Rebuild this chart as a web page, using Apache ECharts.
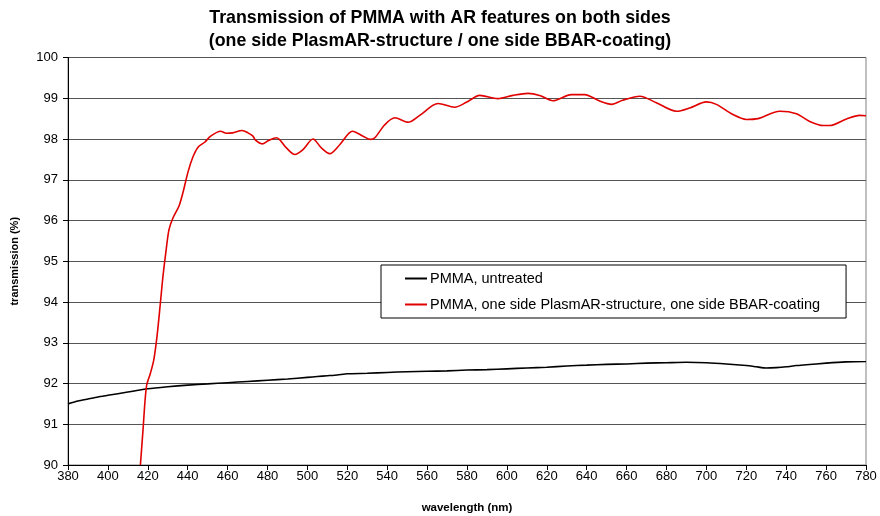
<!DOCTYPE html>
<html>
<head>
<meta charset="utf-8">
<script src="https://cdn.jsdelivr.net/npm/echarts@6/dist/echarts.min.js"></script>
<style>html,body{margin:0;padding:0;background:#fff}#c{width:880px;height:516px}</style>
</head>
<body>
<div id="c"></div>
<script>
var titleText = 'Transmission of PMMA with AR features on both sides\n(one side PlasmAR-structure / one side BBAR-coating)';
var xName = 'wavelength (nm)';
var yName = 'transmission (%)';
var seriesNames = ['PMMA, untreated', 'PMMA, one side PlasmAR-structure, one side BBAR-coating'];

var untreated = [
  [380,91.5],[385,91.57],[390,91.62],[395,91.67],[400,91.71],[410,91.79],[420,91.87],[430,91.92],
  [440,91.96],[450,91.99],[460,92.02],[470,92.05],[480,92.08],[490,92.11],[500,92.15],[505,92.17],
  [510,92.19],[515,92.21],[520,92.24],[530,92.25],[540,92.27],[550,92.29],[560,92.3],[570,92.31],
  [580,92.33],[590,92.34],[600,92.36],[610,92.38],[620,92.4],[630,92.43],[640,92.45],[650,92.47],
  [660,92.48],[670,92.5],[680,92.51],[690,92.52],[700,92.51],[710,92.48],[720,92.44],[725,92.41],
  [730,92.38],[735,92.39],[740,92.41],[745,92.44],[750,92.46],[760,92.5],[770,92.53],[780,92.54]
];

var treated = [
  [416.3,90.0],[417.6,90.86],[419.3,91.92],[421.3,92.25],[423,92.58],[424.6,93.15],[426.3,93.97],
  [427.6,94.63],[429,95.2],[430.6,95.77],[432.6,96.06],[435.6,96.35],[437.6,96.68],[440.2,97.2],
  [442.7,97.57],[445.2,97.8],[448.5,97.92],[451.5,98.07],[456.5,98.19],[459.4,98.14],[462.5,98.15],
  [467.3,98.21],[470.2,98.15],[472.7,98.07],[474,97.97],[477.3,97.88],[480.8,97.97],[484.5,98.03],
  [489.5,97.78],[493.7,97.62],[497.8,97.74],[502.8,98.0],[507,97.78],[511.2,97.64],[516.2,97.86],
  [522.6,98.19],[527.9,98.07],[531.6,97.99],[533.8,98.03],[538.8,98.35],[543.8,98.52],[550.5,98.41],
  [556.3,98.58],[565.5,98.87],[573.8,98.78],[579.7,98.9],[586.4,99.07],[595.5,98.99],[603,99.07],
  [610.6,99.12],[616.4,99.07],[623.1,98.94],[632.3,99.09],[639,99.09],[646.5,98.93],[652.5,98.85],
  [658,98.95],[666.6,99.05],[674.9,98.89],[685,98.68],[691.6,98.76],[700,98.91],[705,98.85],
  [713.3,98.6],[720,98.48],[725.9,98.5],[736.8,98.68],[745.1,98.62],[751.8,98.43],[758.5,98.33],
  [761.8,98.33],[770.2,98.49],[776.8,98.58],[780,98.57]
];

var xTicks = {min: 380, max: 780, interval: 20};
var yTicks = {min: 90, max: 100, interval: 1};

var font = 'Liberation Sans, Arial, sans-serif';
var chart = echarts.init(document.getElementById('c'), null, {renderer: 'canvas'});
chart.setOption({
  animation: false,
  backgroundColor: '#fff',
  title: {
    text: titleText, left: 'center', top: 2,
    textStyle: {fontFamily: font, fontSize: 17.8, fontWeight: 'bold', color: '#000', lineHeight: 23}
  },
  legend: {
    orient: 'vertical', left: 381, top: 265,
    backgroundColor: '#fff', borderColor: '#000', borderWidth: 1, borderRadius: 0,
    padding: [6, 26, 6, 24], itemGap: 11, itemWidth: 22, itemHeight: 2,
    icon: 'rect',
    textStyle: {fontFamily: font, fontSize: 14.5, color: '#000', padding: [0,0,0,-2]},
    data: seriesNames
  },
  grid: {left: 68, right: 14, top: 57.5, bottom: 51, show: true, borderColor: '#808080', borderWidth: 1,
         containLabel: false, outerBoundsMode: 'none'},
  xAxis: {
    type: 'value', min: xTicks.min, max: xTicks.max, interval: xTicks.interval,
    name: xName, nameLocation: 'middle', nameGap: 37,
    nameTextStyle: {fontFamily: font, fontSize: 11.5, fontWeight: 'bold', color: '#000'},
    axisLine: {show: true, onZero: false, lineStyle: {color: '#000', width: 1}},
    axisTick: {show: true, length: 5, lineStyle: {color: '#000'}},
    axisLabel: {fontFamily: font, fontSize: 13, color: '#000', margin: 5},
    splitLine: {show: false}
  },
  yAxis: {
    type: 'value', min: yTicks.min, max: yTicks.max, interval: yTicks.interval,
    name: yName, nameLocation: 'middle', nameGap: 48, nameRotate: 90,
    nameTextStyle: {fontFamily: font, fontSize: 11, fontWeight: 'bold', color: '#000'},
    axisLine: {show: true, onZero: false, lineStyle: {color: '#000', width: 1}},
    axisTick: {show: true, length: 5, lineStyle: {color: '#000'}},
    axisLabel: {fontFamily: font, fontSize: 13, color: '#000', margin: 10},
    splitLine: {show: true, lineStyle: {color: '#555', width: 1}}
  },
  series: [
    {name: seriesNames[0], type: 'line', data: untreated, showSymbol: false, symbol: 'none',
     lineStyle: {color: '#000', width: 1.6}, itemStyle: {color: '#000'}, smooth: 0.2},
    {name: seriesNames[1], type: 'line', data: treated, showSymbol: false, symbol: 'none',
     lineStyle: {color: '#e00000', width: 1.6}, itemStyle: {color: '#e00000'}, smooth: 0.3}
  ]
});
</script>
</body>
</html>
